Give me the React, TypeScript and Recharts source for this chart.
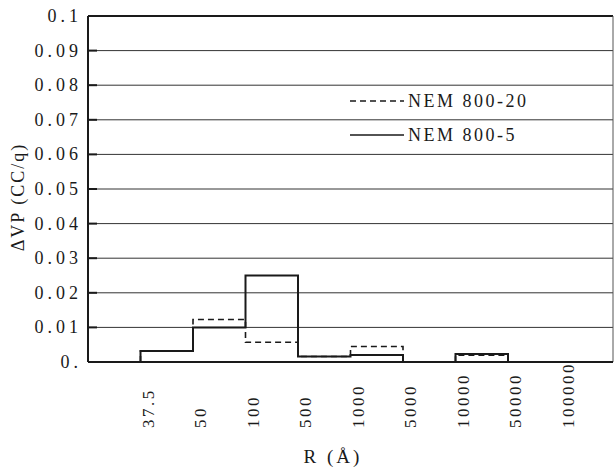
import React from 'react';
import { LineChart, Line, XAxis, YAxis, CartesianGrid, Legend, ReferenceLine } from 'recharts';

// R bin edges (Å) and the ΔVP value of each bin between consecutive edges
const rEdges = ['37.5', '50', '100', '500', '1000', '5000', '10000', '50000', '100000'];
const nem800_20 = [0.0032, 0.0123, 0.0057, 0.0016, 0.0045, 0, 0.002, 0];
const nem800_5 = [0.0032, 0.01, 0.025, 0.0016, 0.002, 0, 0.0023, 0];

const yTicks = [0, 0.01, 0.02, 0.03, 0.04, 0.05, 0.06, 0.07, 0.08, 0.09, 0.1];
const yTickLabels = ['0.', '0.01', '0.02', '0.03', '0.04', '0.05', '0.06', '0.07', '0.08', '0.09', '0.1'];

const series = [
  { key: 'nem20', name: 'NEM 800-20', dash: '6 4', width: 1.6 },
  { key: 'nem5', name: 'NEM 800-5', dash: undefined, width: 2 },
];

const FONT = "'Liberation Serif', 'Times New Roman', 'DejaVu Serif', serif";
const INK = '#1a1a1a';

// step data: start on the baseline, one point per bin edge, drop back to 0 at the end
const buildData = () => {
  const rows: { x: number; nem20: number; nem5: number }[] = [{ x: 0, nem20: 0, nem5: 0 }];
  nem800_5.forEach((v, i) => rows.push({ x: i, nem20: nem800_20[i], nem5: v }));
  rows.push({ x: nem800_5.length, nem20: 0, nem5: 0 });
  return rows;
};

const renderYTick = (props: any) => {
  const { x, y, payload } = props;
  const idx = yTicks.indexOf(payload.value);
  return (
    <g key={`yt-${payload.value}`}>
      <line x1={x} y1={y} x2={x + 9} y2={y} stroke={INK} strokeWidth={2} />
      <text x={x - 6} y={y + 6} textAnchor="end" fill={INK} fontFamily={FONT} fontSize={18} letterSpacing={4}>
        {idx >= 0 ? yTickLabels[idx] : String(payload.value)}
      </text>
    </g>
  );
};

const renderXTick = (props: any) => {
  const { x, y, payload } = props;
  const tx = x + 13;
  const ty = y + 66;
  return (
    <text key={`xt-${payload.value}`} x={tx} y={ty} transform={`rotate(-90 ${tx} ${ty})`} textAnchor="start" fill={INK} fontFamily={FONT} fontSize={17} letterSpacing={2.5}>
      {rEdges[payload.value]}
    </text>
  );
};

const renderLegend = () => (
  <div style={{ fontFamily: FONT, fontSize: 18, letterSpacing: 2.5, color: INK }}>
    {series.map((s) => (
      <div key={s.key} style={{ display: 'flex', alignItems: 'center', height: 34 }}>
        <svg width={54} height={4}>
          <line x1={0} y1={2} x2={54} y2={2} stroke={INK} strokeWidth={1.5} strokeDasharray={s.dash} />
        </svg>
        <span style={{ marginLeft: 4 }}>{s.name}</span>
      </div>
    ))}
  </div>
);

const App: React.FC = () => {
  const data = buildData();
  return (
    <div style={{ position: 'absolute', left: 0, top: 0, background: '#fff', fontFamily: FONT }}>
      <LineChart width={615} height={467} data={data} margin={{ top: 16, right: 2, left: 0, bottom: 0 }}>
        <CartesianGrid vertical={false} stroke="#333" strokeWidth={1} />
        <XAxis
          type="number"
          dataKey="x"
          domain={[-1, 9]}
          ticks={[0, 1, 2, 3, 4, 5, 6, 7, 8]}
          height={105}
          tickSize={0}
          tickMargin={0}
          tick={renderXTick}
          axisLine={{ stroke: INK, strokeWidth: 2 }}
          allowDataOverflow
          label={() => (
            <text x={333} y={463} textAnchor="middle" fill={INK} style={{ fontFamily: FONT, fontSize: 19 }} letterSpacing={3}>
              R (Å)
            </text>
          )}
        />
        <YAxis
          type="number"
          domain={[0, 0.1]}
          ticks={yTicks}
          width={88}
          tickSize={0}
          tickMargin={0}
          tick={renderYTick}
          axisLine={{ stroke: INK, strokeWidth: 2 }}
          interval={0}
          label={() => (
            <text x={24} y={197} transform="rotate(-90 24 197)" textAnchor="middle" fill={INK} style={{ fontFamily: FONT, fontSize: 18 }} letterSpacing={2}>
              ΔVP (CC/q)
            </text>
          )}
        />
        <ReferenceLine y={0.1} stroke={INK} strokeWidth={2} />
        <ReferenceLine x={9} stroke="#555" strokeWidth={1} />
        <Legend
          layout="vertical"
          align="center"
          verticalAlign="middle"
          content={renderLegend}
          wrapperStyle={{ left: 350, top: 84, width: 240 }}
        />
        {series.map((s) => (
          <Line
            key={s.key}
            type="stepAfter"
            dataKey={s.key}
            name={s.name}
            stroke={INK}
            strokeWidth={s.width}
            strokeDasharray={s.dash}
            dot={false}
            activeDot={false}
            isAnimationActive={false}
          />
        ))}
      </LineChart>
    </div>
  );
};

export default App;
